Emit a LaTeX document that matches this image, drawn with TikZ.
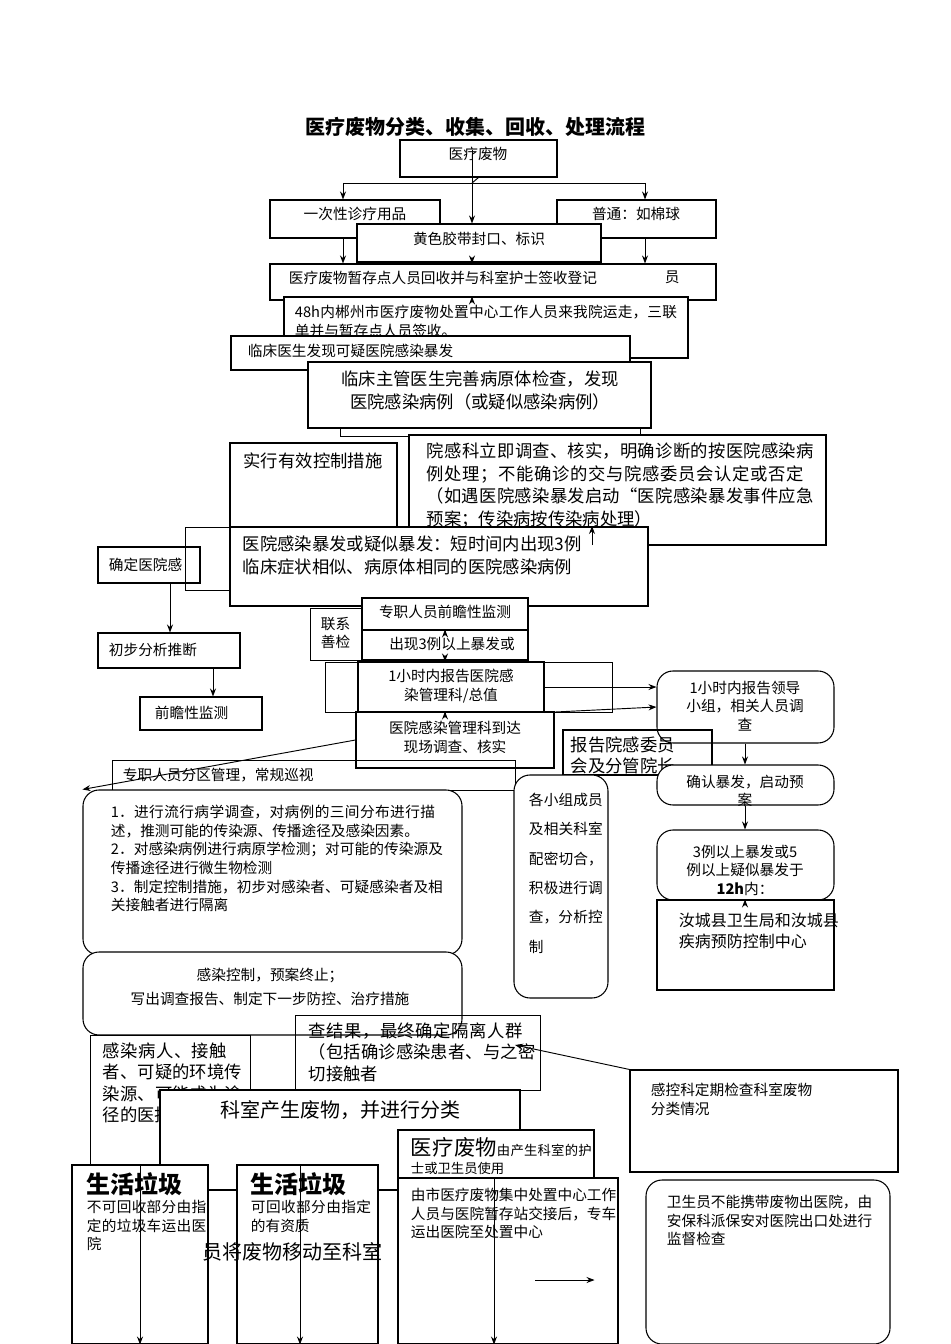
\documentclass[tikz,border=0pt]{standalone}
\usepackage{fontspec}
\setmainfont{Liberation Serif}
\newfontfamily\cjk{Noto Sans CJK SC}
\XeTeXlinebreaklocale "zh"
\XeTeXlinebreakskip=0pt plus 1pt
\usetikzlibrary{fit,arrows.meta}
\begin{document}
\begin{tikzpicture}[x=0.75pt,y=-0.75pt,
  bx/.style={draw,inner sep=0pt,line width=0.8pt},
  rbx/.style={draw,inner sep=0pt,rounded corners=12pt,line width=0.8pt},
  tx/.style={font=\cjk\fontsize{11}{14}\selectfont,align=left,inner sep=2pt},
  arr/.style={-{Stealth[length=6pt]},line width=0.7pt}]
\useasboundingbox (0,0) rectangle (950,1344);
\fill[white] (0,0) rectangle (950,1344);
\node[font=\cjk\bfseries\fontsize{15}{18}\selectfont] at (475,127) {医疗废物分类、收集、回收、处理流程};
% boxes
\node[bx,fit={(400,140)(557,177)}] (a) {};
\node[tx,anchor=north] at (478,144) {医疗废物};
\node[bx,fit={(270,200)(440,238)}] (b1) {};
\node[tx,anchor=north] at (355,204) {一次性诊疗用品};
\node[bx,fit={(557,200)(716,238)}] (b2) {};
\node[tx,anchor=north] at (636,204) {普通：如棉球};
\node[bx,fit={(270,264)(716,300)}] (d) {};
\node[tx,anchor=north west] at (286,268) {医疗废物暂存点人员回收并与科室护士签收登记};
\node[tx,anchor=north west] at (662,268) {员};
\node[bx,fill=white,fit={(357,224)(601,262)}] (c) {};
\node[tx,anchor=north] at (479,229) {黄色胶带封口、标识};
\node[bx,fill=white,fit={(284,297)(688,358)}] (e) {};
\node[tx,anchor=north west,text width=290pt] at (292,302) {48h内郴州市医疗废物处置中心工作人员来我院运走，三联单并与暂存点人员签收。};
\node[bx,fill=white,fit={(231,336)(630,370)}] (f) {};
\node[tx,anchor=north west] at (245,341) {临床医生发现可疑医院感染暴发};
\node[bx,fill=white,fit={(308,362)(651,428)}] (g) {};
\node[tx,anchor=north,align=center,font=\cjk\fontsize{13}{17}\selectfont] at (480,368) {临床主管医生完善病原体检查，发现\\医院感染病例（或疑似感染病例）};
\draw (340,428)--(340,436)--(640,436)--(640,428);
\node[bx,fit={(230,443)(397,527)}] (h) {};
\node[tx,anchor=north,align=center,text width=105pt,font=\cjk\fontsize{13}{16}\selectfont] at (313,450) {实行有效控制措施};
\node[bx,fill=white,fit={(409,435)(826,545)}] (i) {};
\node[tx,anchor=north west,text width=296pt,font=\cjk\fontsize{13}{17}\selectfont] at (424,440) {院感科立即调查、核实，明确诊断的按医院感染病例处理；不能确诊的交与院感委员会认定或否定（如遇医院感染暴发启动“医院感染暴发事件应急预案；传染病按传染病处理）};
\node[bx,fit={(98,547)(200,583)}] (j) {};
\node[tx,anchor=west] at (106,565) {确定医院感};
\draw (185,527) rectangle (600,590);
\node[bx,fill=white,fit={(230,527)(648,606)}] (k) {};
\node[tx,anchor=north west,font=\cjk\fontsize{13}{17}\selectfont] at (240,533) {医院感染暴发或疑似暴发：短时间内出现3例\\临床症状相似、病原体相同的医院感染病例};
\node[bx,fit={(98,633)(240,668)}] (l) {};
\node[tx,anchor=west] at (106,650) {初步分析推断};
\draw (310,608) rectangle (362,660); \node[tx,anchor=north west] at (318,614) {联系\\善检};
\node[bx,fill=white,fit={(362,598)(528,630)}] (m) {};
\node[tx,anchor=north] at (445,602) {专职人员前瞻性监测};
\node[bx,fill=white,fit={(362,630)(528,660)}] (n) {};
\node[tx,anchor=north] at (452,634) {出现3例以上暴发或};
\draw (325,662) rectangle (612,712);
\node[bx,fill=white,fit={(358,662)(544,712)}] (o) {};
\node[tx,anchor=north,align=center] at (451,666) {1小时内报告医院感\\染管理科/总值};
\node[bx,fit={(140,697)(262,730)}] (p) {};
\node[tx,anchor=west] at (152,713) {前瞻性监测};
\node[bx,fill=white,fit={(356,712)(554,768)}] (q) {};
\node[tx,anchor=north,align=center] at (455,718) {医院感染管理科到达\\现场调查、核实};
\node[rbx,fill=white,fit={(657,671)(834,743)}] (r) {};
\node[tx,anchor=north,align=center] at (745,678) {1小时内报告领导\\小组，相关人员调\\查};
\node[bx,fit={(563,730)(712,775)}] (s) {};
\node[tx,anchor=north west,font=\cjk\fontsize{13}{16}\selectfont] at (568,734) {报告院感委员\\会及分管院长};
\draw (112,760) rectangle (515,790);
\node[tx,anchor=west] at (120,775) {专职人员分区管理，常规巡视};
\node[rbx,fill=white,fit={(657,765)(834,805)}] (t) {};
\node[tx,anchor=north,align=center] at (745,772) {确认暴发，启动预\\案};
\node[rbx,fill=white,fit={(83,790)(462,955)}] (u) {};
\node[tx,anchor=north west,text width=250pt] at (108,802) {1．进行流行病学调查，对病例的三间分布进行描述，推测可能的传染源、传播途径及感染因素。\\2．对感染病例进行病原学检测；对可能的传染源及传播途径进行微生物检测\\3．制定控制措施，初步对感染者、可疑感染者及相关接触者进行隔离};
\node[rbx,fill=white,fit={(514,775)(608,998)}] (v) {};
\node[tx,anchor=north west,text width=58pt,font=\cjk\fontsize{11}{22}\selectfont] at (526,790) {各小组成员及相关科室配密切合，积极进行调查，分析控制};
\node[rbx,fill=white,fit={(657,830)(834,900)}] (w) {};
\node[tx,anchor=north,align=center] at (745,842) {3例以上暴发或5\\例以上疑似暴发于\\\textbf{12h}内：};
\node[bx,fill=white,fit={(657,900)(834,990)}] (x) {};
\node[tx,anchor=north west,text width=120pt,font=\cjk\fontsize{12}{16}\selectfont] at (676,910) {汝城县卫生局和汝城县疾病预防控制中心};
\node[rbx,fill=white,fit={(83,952)(462,1035)}] (y) {};
\node[tx,anchor=north,align=center] at (270,965) {感染控制，预案终止；\\[4pt]写出调查报告、制定下一步防控、治疗措施};
\draw (90,1035) rectangle (250,1165);
\node[tx,anchor=north west,text width=105pt,font=\cjk\fontsize{13}{16}\selectfont] at (100,1040) {感染病人、接触者、可疑的环境传染源、可能成为途径的医护人员};
\draw (295,1015) rectangle (540,1090);
\node[tx,anchor=north west,text width=172pt,font=\cjk\fontsize{13}{16}\selectfont] at (306,1020) {查结果，最终确定隔离人群（包括确诊感染患者、与之密切接触者};
\node[bx,fill=white,fit={(630,1070)(898,1172)}] (z) {};
\node[tx,anchor=north west] at (648,1080) {感控科定期检查科室废物\\分类情况};
\node[bx,fill=white,fit={(160,1090)(520,1190)}] (k1) {};
\node[tx,anchor=north,font=\cjk\fontsize{15}{18}\selectfont] at (340,1098) {科室产生废物，并进行分类};
\node[bx,fill=white,fit={(398,1130)(594,1180)}] (k2) {};
\node[tx,anchor=north west,text width=139pt,font=\cjk\fontsize{10}{13}\selectfont] at (408,1135) {{\fontsize{16}{18}\selectfont 医疗废物}由产生科室的护士或卫生员使用};
\node[bx,fill=white,fit={(72,1165)(208,1344)}] (g1) {};
\node[tx,anchor=north west,text width=94pt] at (84,1170) {{\fontsize{18}{22}\selectfont\bfseries 生活垃圾}\\不可回收部分由指定的垃圾车运出医院};
\node[bx,fill=white,fit={(237,1165)(378,1344)}] (g2) {};
\node[tx,anchor=north west,text width=97pt] at (248,1170) {{\fontsize{18}{22}\selectfont\bfseries 生活垃圾}\\可回收部分由指定的有资质};
\node[tx,anchor=north west,font=\cjk\fontsize{15}{18}\selectfont] at (200,1240) {员将废物移动至科室};
\node[bx,fill=white,fit={(398,1178)(618,1344)}] (g3) {};
\node[tx,anchor=north west,text width=154pt] at (408,1185) {由市医疗废物集中处置中心工作人员与医院暂存站交接后，专车运出医院至处置中心};
\node[rbx,fill=white,fit={(646,1180)(890,1344)}] (g4) {};
\node[tx,anchor=north west,text width=154pt] at (664,1192) {卫生员不能携带废物出医院，由安保科派保安对医院出口处进行监督检查};
% connectors
\coordinate (sp1) at (343,183); \coordinate (sp2) at (645,183);
\draw[line width=0.7pt] (a.south) -- (472,183);
\draw[line width=0.7pt] (sp1) -- (sp2);
\draw[arr] (sp1) -- (b1.north-|sp1);
\draw[arr] (sp2) -- (b2.north-|sp2);
\draw[arr] (b1.south-|sp1) -- (d.north-|sp1);
\draw[arr] (b2.south-|sp2) -- (d.north-|sp2);
\draw[arr] (472,150) -- (c.north-|472,0);
\draw[arr] (c.south-|472,0) -- (d.north-|472,0);
\draw[arr] (d.south-|472,0) -- (e.north-|472,0);
\draw[arr] (j.south-|170,0) -- (l.north-|170,0);
\draw[arr] (l.south-|213,0) -- (p.north-|213,0);
\draw[arr] (m.south-|445,0) -- (n.north-|445,0);
\draw[arr] (n.south-|445,0) -- (o.north-|445,0);
\draw[arr] (o.south-|445,0) -- (q.north-|445,0);
\draw[arr] (o.east) -- (r.west|-o.east);
\draw[arr] (o.south east) -- (r.west);
\draw[arr] (r.south-|745,0) -- (t.north-|745,0);
\draw[arr] (t.south-|745,0) -- (w.north-|745,0);
\draw[arr] (w.south-|745,0) -- (x.north-|745,0);
\draw[arr] (q.west) -- (u.north west);
\draw[arr] (592,545) -- (592,526);
\draw[arr] (z.north west) -- (515,1045);
\draw[arr] (g1.north-|140,0) -- (g1.south-|140,0);
\draw[arr] (g2.north-|300,0) -- (g2.south-|300,0);
\draw[arr] (g3.north-|494,0) -- (g3.south-|494,0);
\draw[arr] (535,1280) -- (k2.east|-0,1280);
\end{tikzpicture}
\end{document}
